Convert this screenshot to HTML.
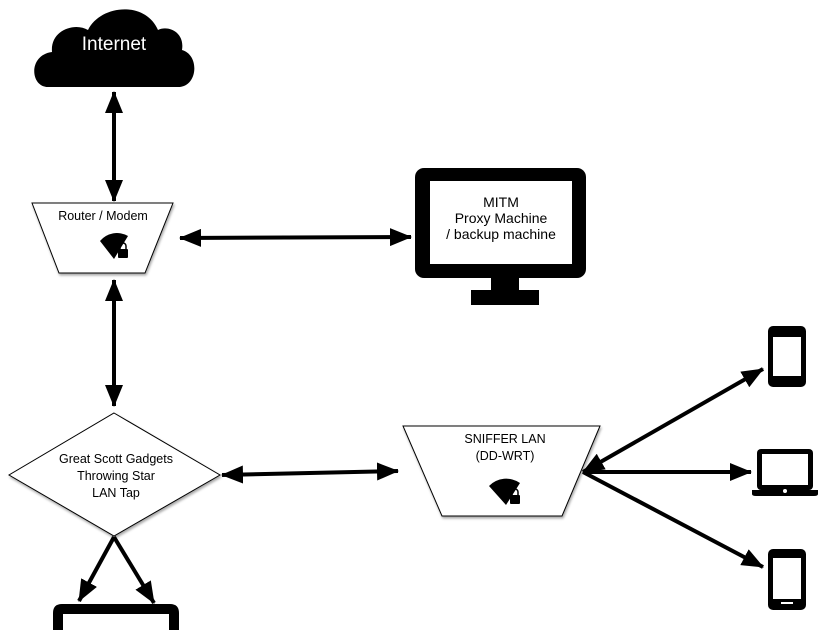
<!DOCTYPE html>
<html><head><style>html,body{margin:0;background:#fff;overflow:hidden;width:818px;height:630px}svg{display:block}</style></head><body>
<svg width="818" height="630" viewBox="0 0 818 630" xmlns="http://www.w3.org/2000/svg" font-family="Liberation Sans, Arial, sans-serif">
<defs>
<marker id="b" markerWidth="22" markerHeight="18" refX="21" refY="9" orient="auto-start-reverse" markerUnits="userSpaceOnUse" viewBox="0 0 22 18">
<path d="M0,0 L22,9 L0,18 Z" fill="#000"/></marker>
<filter id="s"><feDropShadow dx="1" dy="2" stdDeviation="1.2" flood-opacity="0.35"/></filter>
</defs>
<path d="M48,87 C30,87 28,55 52,52 C50,30 75,22 88,30 C100,5 145,0 158,30 C168,25 185,32 182,50 C200,55 198,87 178,87 Z" fill="#000"/>
<text x="114" y="50" fill="#fff" font-size="19" text-anchor="middle">Internet</text>
<g stroke="#000" stroke-width="4" fill="none">
<line x1="114" y1="92" x2="114" y2="201" marker-start="url(#b)" marker-end="url(#b)"/>
<line x1="114" y1="280" x2="114" y2="406" marker-start="url(#b)" marker-end="url(#b)"/>
<line x1="180" y1="238" x2="411" y2="237" marker-start="url(#b)" marker-end="url(#b)"/>
<line x1="222" y1="475" x2="398" y2="471" marker-start="url(#b)" marker-end="url(#b)"/>
<line x1="583" y1="472" x2="763" y2="369" marker-start="url(#b)" marker-end="url(#b)"/>
<line x1="583" y1="472" x2="751" y2="472" marker-end="url(#b)"/>
<line x1="583" y1="472" x2="763" y2="567" marker-end="url(#b)"/>
<line x1="114" y1="537" x2="79" y2="601" marker-end="url(#b)"/>
<line x1="114" y1="537" x2="154" y2="603" marker-end="url(#b)"/>
</g>
<polygon points="32,203 173,203 145,273 59,273" fill="#fff" stroke="#000" stroke-width="1" filter="url(#s)"/>
<text x="103" y="220" font-size="12.5" text-anchor="middle">Router / Modem</text>
<path d="M100,241 A22,22 0 0 1 128,236 L114,259 Z" fill="#000"/>
<rect x="118" y="249" width="10" height="9" rx="1" fill="#000"/>
<path d="M120,249 v-3 a3,3 0 0 1 6,0 v3" stroke="#000" stroke-width="1.5" fill="none"/>
<rect x="415" y="168" width="171" height="110" rx="9" fill="#000"/>
<rect x="430" y="181" width="142" height="83" fill="#fff"/>
<rect x="491" y="277" width="28" height="14" fill="#000"/>
<rect x="471" y="290" width="68" height="15" fill="#000"/>
<text x="501" y="207" font-size="14" text-anchor="middle">MITM</text>
<text x="501" y="223" font-size="14" text-anchor="middle">Proxy Machine</text>
<text x="501" y="239" font-size="14" text-anchor="middle">/ backup machine</text>
<polygon points="114,413 220,475 114,536 9,475" fill="#fff" stroke="#000" stroke-width="1" filter="url(#s)"/>
<text x="116" y="463" font-size="12.5" text-anchor="middle">Great Scott Gadgets</text>
<text x="116" y="480" font-size="12.5" text-anchor="middle">Throwing Star</text>
<text x="116" y="497" font-size="12.5" text-anchor="middle">LAN Tap</text>
<polygon points="403,426 600,426 562,516 442,516" fill="#fff" stroke="#000" stroke-width="1" filter="url(#s)"/>
<text x="505" y="443" font-size="12.5" text-anchor="middle">SNIFFER LAN</text>
<text x="505" y="460" font-size="12.5" text-anchor="middle">(DD-WRT)</text>
<path d="M489,486 A24,24 0 0 1 520,483 L506,505 Z" fill="#000"/>
<rect x="510" y="495" width="10" height="9" rx="1" fill="#000"/>
<path d="M512,495 v-3 a3,3 0 0 1 6,0 v3" stroke="#000" stroke-width="1.5" fill="none"/>
<rect x="768" y="326" width="38" height="61" rx="5" fill="#000"/>
<rect x="773" y="337" width="28" height="39" fill="#fff"/>
<rect x="757" y="449" width="56" height="41" rx="4" fill="#000"/>
<rect x="762" y="454" width="46" height="31" fill="#fff"/>
<path d="M752,490 H818 V494 Q818,496 814,496 H756 Q752,496 752,494 Z" fill="#000"/>
<circle cx="785" cy="491" r="2" fill="#fff"/>
<rect x="768" y="549" width="38" height="61" rx="5" fill="#000"/>
<rect x="773" y="558" width="28" height="41" fill="#fff"/>
<rect x="781" y="602" width="12" height="2" fill="#fff"/>
<path d="M53,630 V613 Q53,604 62,604 H170 Q179,604 179,613 V630 Z" fill="#000"/>
<rect x="63" y="614" width="106" height="16" fill="#fff"/>
</svg>
</body></html>
